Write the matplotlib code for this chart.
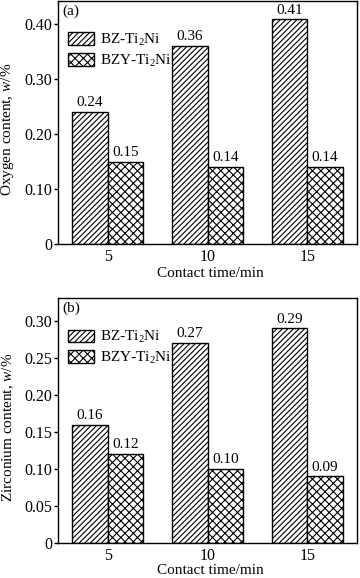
import matplotlib
matplotlib.use("Agg")
import matplotlib.pyplot as plt
import numpy as np

plt.rcParams['font.family'] = ['Liberation Serif', 'DejaVu Serif']
plt.rcParams['mathtext.fontset'] = 'custom'
plt.rcParams['mathtext.rm'] = 'Liberation Serif'
plt.rcParams['mathtext.it'] = 'Liberation Serif:italic'
plt.rcParams['hatch.linewidth'] = 0.8

categories = ['5', '10', '15']
series_names = ['BZ-Ti$_2$Ni', 'BZY-Ti$_2$Ni']
oxygen_bz = [0.24, 0.36, 0.41]
oxygen_bzy = [0.15, 0.14, 0.14]
zirconium_bz = [0.16, 0.27, 0.29]
zirconium_bzy = [0.12, 0.10, 0.09]
oxy_ticks = [0, 0.10, 0.20, 0.30, 0.40]
oxy_ticklabels = ['0', '0.10', '0.20', '0.30', '0.40']
zr_ticks = [0, 0.05, 0.10, 0.15, 0.20, 0.25, 0.30]
zr_ticklabels = ['0', '0.05', '0.10', '0.15', '0.20', '0.25', '0.30']

W, H = 360, 578
fig = plt.figure(figsize=(W / 100, H / 100), dpi=100)

FS = 11
TFS = 11.5
hatches = ['//////', 'xxxx']


def panel(rect, s1, s2, ticks, ticklabels, ylim, ylabel, tag, xlab_y):
    ax = fig.add_axes(rect)
    x = np.arange(len(categories))
    w = 0.355
    vals = [s1, s2]
    for i, (v, h) in enumerate(zip(vals, hatches)):
        pos = x + (i - 0.5) * w
        bars = ax.bar(pos, v, width=w, facecolor='white', edgecolor='black',
                      hatch=h, linewidth=1.0, label=series_names[i])
        for b, val in zip(bars, v):
            top_room = ylim[1] - val
            off = 1 if top_room < 0.04 else 2
            ax.annotate(f'{val:.2f}', (b.get_x() + b.get_width() / 2, val),
                        xytext=(0, off), textcoords='offset points',
                        ha='center', va='bottom', fontsize=FS)
    ax.set_xlim(-0.5, 2.5)
    ax.set_ylim(*ylim)
    ax.set_xticks(x)
    ax.set_xticklabels(categories, fontsize=TFS)
    ax.set_yticks(ticks)
    ax.set_yticklabels(ticklabels, fontsize=TFS)
    ax.tick_params(axis='x', length=0, pad=3.5)
    ax.tick_params(axis='y', direction='out', length=3, width=1, pad=1)
    for s in ax.spines.values():
        s.set_linewidth(1.0)
    ax.set_xlabel('Contact time/min', fontsize=FS)
    ax.xaxis.set_label_coords(0.51, xlab_y)
    ax.set_ylabel(ylabel, fontsize=FS)
    ax.yaxis.set_label_coords(-0.14, 0.47)
    ax.text(0.015, 0.985, tag, transform=ax.transAxes, ha='left', va='top', fontsize=FS)
    ax.legend(loc='upper left', bbox_to_anchor=(0.035, 0.872), frameon=False,
              fontsize=FS, handlelength=1.65, handleheight=0.9,
              handletextpad=0.4, labelspacing=0.3, borderpad=0, borderaxespad=0)
    return ax


panel([58 / W, 1 - 244 / H, 299 / W, 243 / H], oxygen_bz, oxygen_bzy,
      oxy_ticks, oxy_ticklabels, (0, 0.442), 'Oxygen content, $w$/%', '(a)', -0.093)
panel([58 / W, 1 - 543 / H, 299 / W, 245 / H], zirconium_bz, zirconium_bzy,
      zr_ticks, zr_ticklabels, (0, 0.331), 'Zirconium content, $w$/%', '(b)', -0.084)

fig.savefig('out.png', dpi=100)
